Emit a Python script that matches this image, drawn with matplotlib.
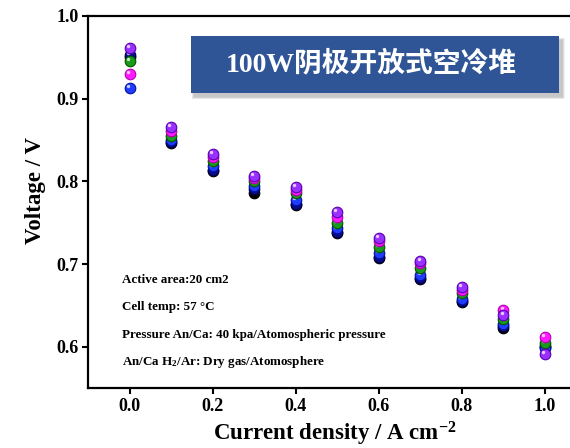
import matplotlib
matplotlib.use("Agg")
import matplotlib.pyplot as plt
from matplotlib.patches import Rectangle
from matplotlib.transforms import offset_copy
import numpy as np

plt.rcParams['font.family'] = ['Liberation Serif', 'Noto Sans CJK SC', 'DejaVu Sans']
plt.rcParams['font.weight'] = 'bold'
plt.rcParams['mathtext.default'] = 'regular'

# current density (A cm-2)
current = [0.0, 0.1, 0.2, 0.3, 0.4, 0.5, 0.6, 0.7, 0.8, 0.9, 1.0]

# cell voltages (V), one list per cell in the stack
v_black   = [0.951, 0.846, 0.812, 0.786, 0.771, 0.737, 0.707, 0.682, 0.654, 0.623, 0.600]
v_navy    = [0.953, 0.847, 0.814, 0.791, 0.772, 0.739, 0.708, 0.683, 0.655, 0.625, 0.601]
v_blue    = [0.913, 0.850, 0.818, 0.794, 0.777, 0.743, 0.713, 0.687, 0.658, 0.628, 0.598]
v_green   = [0.946, 0.855, 0.824, 0.800, 0.786, 0.750, 0.721, 0.695, 0.665, 0.633, 0.605]
v_magenta = [0.930, 0.861, 0.830, 0.804, 0.790, 0.757, 0.728, 0.701, 0.669, 0.644, 0.612]
v_purple  = [0.961, 0.866, 0.833, 0.807, 0.793, 0.763, 0.731, 0.704, 0.672, 0.638, 0.591]

series = [
    (v_black, '#000000', '#000000'),
    (v_navy, '#0a0a8c', '#00004a'),
    (v_blue, '#1f3cff', '#0010a0'),
    (v_green, '#1a9a1a', '#005500'),
    (v_magenta, '#ff1aff', '#b000b0'),
    (v_purple, '#9a30ff', '#5a00b0'),
]

notes = [
    'Active area:20 cm2',
    'Cell temp: 57 \u00b0C',
    'Pressure An/Ca: 40 kpa/Atomospheric pressure',
    'An/Ca H$_2$/Ar: Dry gas/Atomosphere',
]
note_y = [0.681, 0.6475, 0.6145, 0.581]

fig = plt.figure(figsize=(5.7, 4.48), dpi=100)
ax = fig.add_axes([88 / 570, 1 - 388 / 448, 498.5 / 570, 372 / 448])

highlight = offset_copy(ax.transData, fig=fig, x=-1.3, y=1.4, units='points')
for vals, col, edge in series:
    ax.scatter(current, vals, s=58, color=col, edgecolors=edge, linewidths=0.8, zorder=3)
    ax.scatter(current, vals, s=6, color='white', alpha=0.75, linewidths=0,
               transform=highlight, zorder=3)

ax.set_xlim(-0.1, 1.1)
ax.set_ylim(0.55, 1.0)
ax.set_xticks([0.0, 0.2, 0.4, 0.6, 0.8, 1.0])
ax.set_yticks([0.6, 0.7, 0.8, 0.9, 1.0])
ax.xaxis.set_major_formatter(matplotlib.ticker.FormatStrFormatter('%.1f'))
ax.yaxis.set_major_formatter(matplotlib.ticker.FormatStrFormatter('%.1f'))
ax.tick_params(direction='out', length=4, width=1.5, labelsize=13, pad=3)
for sp in ax.spines.values():
    sp.set_linewidth(1.6)

ax.set_xlabel('Current density / A cm$^{-2}$', fontsize=16.5, fontweight='bold')
ax.set_ylabel('Voltage / V', fontsize=16.5, fontweight='bold')
ax.xaxis.set_label_coords(0.495, -0.085)
ax.yaxis.set_label_coords(-0.085, 0.53)

for txt, y in zip(notes, note_y):
    ax.text(-0.017, y, txt, fontsize=9.4, fontweight='bold', va='center', ha='left')

# title box with soft shadow
x0, y0, w, h = 191 / 570, 1 - 93 / 448, 368 / 570, 57 / 448
for i in range(5):
    d = (5 - i) / 570
    fig.add_artist(Rectangle((x0 + 3 / 570 - d / 2, y0 - 4 / 448 - d / 2), w + d, h + d,
                             transform=fig.transFigure, color='#505050', alpha=0.07, lw=0))
fig.add_artist(Rectangle((x0, y0), w, h, transform=fig.transFigure,
                         facecolor='#2f5597', edgecolor='none'))
fig.text(x0 + w / 2 - 4 / 570, y0 + h / 2, '100W阴极开放式空冷堆', color='white',
         fontsize=20, fontweight='bold', ha='center', va='center')

fig.savefig('out.png', dpi=100)
